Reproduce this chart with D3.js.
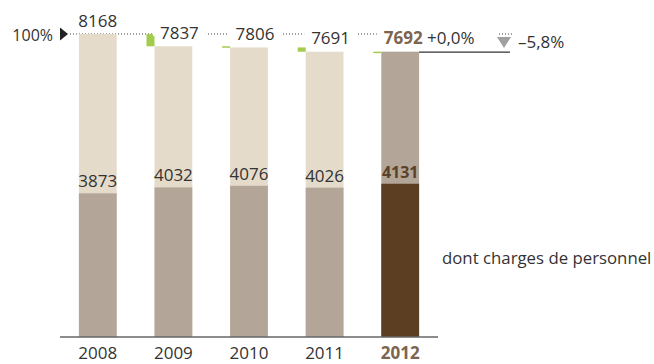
<!DOCTYPE html>
<html>
<head>
<meta charset="utf-8">
<script src="https://cdn.jsdelivr.net/npm/d3@7"></script>
<style>
    body { margin: 0; background: #fff; }
    text { font-family: "Open Sans", sans-serif; fill: #333; }
</style>
</head>
<body>
<div id="chart"></div>
<script>

// data
var years = ["2008", "2009", "2010", "2011", "2012"];
var totals = [8168, 7837, 7806, 7691, 7692];
var personnel = [3873, 4032, 4076, 4026, 4131];
var changeLabel = "+0,0%";
var totalChangeLabel = "\u20135,8%";
var personnelLabel = "dont charges de personnel";

// dimensions
var width = 654,
    height = 364;

var svg = d3.select("#chart")
    .append("svg")
    .attr("width", width)
    .attr("height", height);

// scales
var xScale = d3.scaleBand()
    .domain(years)
    .range([60, 438])
    .paddingInner(0.5)
    .paddingOuter(0.25);

var yScale = d3.scaleLinear()
    .domain([0, totals[0]])
    .range([337, 34]);

var last = years.length - 1;

// dotted 100% line
var topY = yScale(totals[0]);
svg.append("line")
    .attr("x1", 70)
    .attr("x2", 512)
    .attr("y1", topY)
    .attr("y2", topY)
    .attr("stroke", "#444")
    .attr("stroke-width", 1)
    .attr("stroke-dasharray", "1,2");

// 100% marker
svg.append("path")
    .attr("d", "M60," + (topY - 6.5) + "L68," + topY + "L60," + (topY + 6.5) + "Z")
    .attr("fill", "#222");
svg.append("text")
    .attr("x", 53)
    .attr("y", topY + 7)
    .attr("text-anchor", "end")
    .style("font-size", "16px")
    .text("100%");

// upper bars (total)
svg.selectAll(".total")
    .data(totals)
    .enter()
    .append("rect")
    .attr("class", "total")
    .attr("x", (d, i) => xScale(years[i]))
    .attr("y", d => yScale(d))
    .attr("width", xScale.bandwidth())
    .attr("height", d => yScale(0) - yScale(d))
    .attr("fill", (d, i) => i == last ? "#b3a699" : "#e5dbca");

// lower bars (personnel)
svg.selectAll(".pers")
    .data(personnel)
    .enter()
    .append("rect")
    .attr("class", "pers")
    .attr("x", (d, i) => xScale(years[i]))
    .attr("y", d => yScale(d))
    .attr("width", xScale.bandwidth())
    .attr("height", d => yScale(0) - yScale(d))
    .attr("fill", (d, i) => i == last ? "#5c3f22" : "#b3a699");

// green change markers
svg.selectAll(".delta")
    .data(totals.slice(1))
    .enter()
    .append("rect")
    .attr("class", "delta")
    .attr("x", (d, i) => xScale(years[i + 1]) - 8)
    .attr("y", (d, i) => Math.min(yScale(totals[i]), yScale(d)))
    .attr("width", 8)
    .attr("height", (d, i) => Math.max(1.5, Math.abs(yScale(d) - yScale(totals[i]))))
    .attr("fill", "#a3cc4f");

// line to the right of last bar
svg.append("line")
    .attr("x1", xScale(years[last]) + xScale.bandwidth())
    .attr("x2", 510)
    .attr("y1", yScale(totals[last]) + 0.5)
    .attr("y2", yScale(totals[last]) + 0.5)
    .attr("stroke", "#333")
    .attr("stroke-width", 1.3);

// total labels with white background
var labels = svg.selectAll(".tlabel")
    .data(totals)
    .enter()
    .append("g")
    .attr("class", "tlabel");
labels.append("rect").attr("fill", "#fff");
labels.append("text")
    .attr("x", (d, i) => xScale(years[i]) + xScale.bandwidth() / 2 + (i == 0 ? 0 : i == last ? 3 : 6))
    .attr("y", d => yScale(d) - 7.5)
    .attr("text-anchor", "middle")
    .style("font-size", "17px")
    .style("font-weight", (d, i) => i == last ? "bold" : "normal")
    .style("fill", (d, i) => i == last ? "#7b6550" : "#333")
    .text(d => d);
labels.each(function(d, i) {
    if (i == 0) return;
    var box = d3.select(this).select("text").node().getBBox();
    d3.select(this).select("rect")
        .attr("x", box.x - 7)
        .attr("y", topY - 2)
        .attr("width", box.width + 14)
        .attr("height", 4);
});

// change label next to last value
var changeText = svg.append("text")
    .attr("x", 427)
    .attr("y", yScale(totals[last]) - 7.5)
    .style("font-size", "17px")
    .text(changeLabel);
var cb = changeText.node().getBBox();
svg.insert("rect", "text")
    .attr("x", cb.x)
    .attr("y", topY - 2)
    .attr("width", 497 - cb.x)
    .attr("height", 4)
    .attr("fill", "#fff");

// total change marker
svg.append("path")
    .attr("d", "M497,37L511,37L504,48Z")
    .attr("fill", "#a0a0a3");
svg.append("text")
    .attr("x", 518)
    .attr("y", 48)
    .style("font-size", "17px")
    .text(totalChangeLabel);

// personnel labels
svg.selectAll(".plabel")
    .data(personnel)
    .enter()
    .append("text")
    .attr("class", "plabel")
    .attr("x", (d, i) => xScale(years[i]) + xScale.bandwidth() / 2)
    .attr("y", d => yScale(d) - 6)
    .attr("text-anchor", "middle")
    .style("font-size", (d, i) => i == last ? "16px" : "17px")
    .style("font-weight", (d, i) => i == last ? "bold" : "normal")
    .style("fill", (d, i) => i == last ? "#5c4128" : "#333")
    .text(d => d);

// legend text
svg.append("text")
    .attr("x", 442)
    .attr("y", 264)
    .style("font-size", "16.8px")
    .text(personnelLabel);

// x axis
svg.append("line")
    .attr("x1", 60)
    .attr("x2", 438)
    .attr("y1", 337)
    .attr("y2", 337)
    .attr("stroke", "#666")
    .attr("stroke-width", 1.5);

svg.selectAll(".year")
    .data(years)
    .enter()
    .append("text")
    .attr("class", "year")
    .attr("x", d => xScale(d) + xScale.bandwidth() / 2)
    .attr("y", 358.5)
    .attr("text-anchor", "middle")
    .style("font-size", "17px")
    .style("font-weight", (d, i) => i == last ? "bold" : "normal")
    .style("fill", (d, i) => i == last ? "#7b6550" : "#333")
    .text(d => d);

</script>
</body>
</html>
